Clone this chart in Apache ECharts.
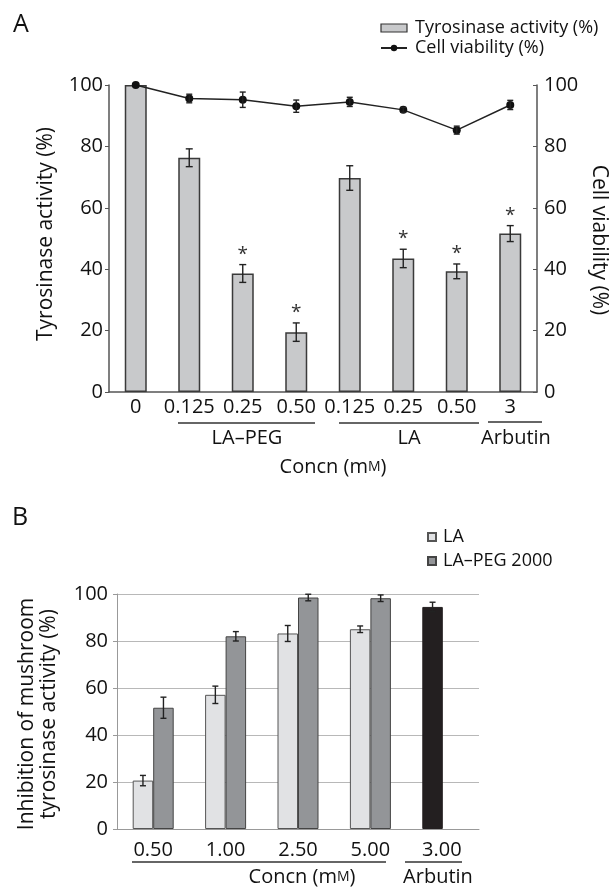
<!DOCTYPE html>
<html>
<head>
<meta charset="utf-8">
<script src="https://cdn.jsdelivr.net/npm/echarts@6/dist/echarts.min.js"></script>
<style>
html,body{margin:0;padding:0;background:#fff;}
#c{width:615px;height:887px;}
</style>
</head>
<body>
<div id="c"></div>
<script>
// ---------- Panel A data ----------
const catsA = ['0', '0.125', '0.25', '0.50', '0.125', '0.25', '0.50', '3'];
const tyrosinaseA = [100, 76.3, 38.6, 19.5, 69.7, 43.5, 39.3, 51.6];
const tyrosinaseErrA = [0, 2.9, 2.9, 3.0, 4.0, 3.0, 2.4, 2.6];
const significantA = [0, 0, 1, 1, 0, 1, 1, 1];
const viabilityA = [100, 95.6, 95.2, 93.1, 94.5, 91.9, 85.3, 93.5];
const viabilityErrA = [0, 1.4, 2.5, 2.0, 1.5, 0.8, 1.3, 1.5];
const yTicksA = [0, 20, 40, 60, 80, 100];

// ---------- Panel B data ----------
const catsB = ['0.50', '1.00', '2.50', '5.00', '3.00'];
const laB = [20.6, 57.1, 83.2, 85.0];
const laErrB = [2.2, 3.7, 3.4, 1.4];
const pegB = [51.6, 82.0, 98.5, 98.2];
const pegErrB = [4.5, 2.0, 1.4, 1.4];
const arbutinB = 94.5;
const arbutinErrB = 2.0;
const yTicksB = [0, 20, 40, 60, 80, 100];

const FONT = 'Open Sans';
const TICK = 20;
const TITLE = 21;
const chart = echarts.init(document.getElementById('c'), null, {renderer: 'canvas'});

function errRender(capHalf, offset, withStar) {
  return function (params, api) {
    const x = api.value(0), y = api.value(1), e = api.value(2), sig = api.value(3);
    const top = api.coord([x, y + e]);
    const bot = api.coord([x, y - e]);
    const cx = top[0] + offset;
    const st = {stroke: '#222', lineWidth: 1.4};
    const children = [];
    if (e > 0) {
      children.push({type: 'line', shape: {x1: cx, y1: top[1], x2: cx, y2: bot[1]}, style: st});
      children.push({type: 'line', shape: {x1: cx - capHalf, y1: top[1], x2: cx + capHalf, y2: top[1]}, style: st});
      children.push({type: 'line', shape: {x1: cx - capHalf, y1: bot[1], x2: cx + capHalf, y2: bot[1]}, style: st});
    }
    if (withStar && sig) {
      children.push({type: 'text', style: {text: '*', x: cx, y: top[1] - 1, align: 'center', verticalAlign: 'bottom',
        fontSize: 19, fontFamily: FONT, fill: '#333'}});
    }
    return {type: 'group', children: children};
  };
}

const axisTxt = {color: '#111', fontSize: TICK, fontFamily: FONT};

const option = {
  animation: false,
  backgroundColor: '#fff',
  textStyle: {fontFamily: FONT},
  grid: [
    {left: 109, top: 85, width: 428, height: 307},
    {left: 117, top: 594, width: 362, height: 235}
  ],
  legend: [
    {
      orient: 'vertical', left: 375, top: 14, itemWidth: 26, itemHeight: 8, itemGap: 2,
      textStyle: {fontSize: 18, color: '#111', fontFamily: FONT, padding: [0, 0, 0, 3]},
      data: [
        {name: 'Tyrosinase activity (%)', icon: 'rect', itemStyle: {color: '#c8c9cb', borderColor: '#333', borderWidth: 1.2}},
        {name: 'Cell viability (%)'}
      ]
    },
    {
      orient: 'vertical', left: 422, top: 523, itemWidth: 8, itemHeight: 8, itemGap: 6,
      textStyle: {fontSize: 18, color: '#111', fontFamily: FONT, padding: [0, 0, 0, 2]},
      data: [{name: 'LA', icon: 'rect'}, {name: 'LA–PEG 2000', icon: 'rect'}]
    }
  ],
  xAxis: [
    {
      gridIndex: 0, type: 'category', data: catsA.map((c, i) => String(i)),
      axisLine: {lineStyle: {color: '#555', width: 1.5}},
      axisTick: {inside: true, length: 5, lineStyle: {color: '#555', width: 1.2}},
      axisLabel: Object.assign({margin: 5, interval: 0, formatter: (v) => catsA[+v]}, axisTxt)
    },
    {
      gridIndex: 1, type: 'category', data: catsB,
      axisLine: {lineStyle: {color: '#999', width: 1}},
      axisTick: {length: 5, lineStyle: {color: '#999'}},
      axisLabel: {show: false}
    }
  ],
  yAxis: [
    {
      gridIndex: 0, type: 'value', min: yTicksA[0], max: yTicksA[yTicksA.length - 1], interval: 20,
      axisLine: {show: true, lineStyle: {color: '#555', width: 1.5}},
      axisTick: {show: true, length: 4, lineStyle: {color: '#555'}},
      splitLine: {show: false},
      axisLabel: Object.assign({margin: 6}, axisTxt)
    },
    {
      gridIndex: 0, type: 'value', position: 'right', min: yTicksA[0], max: yTicksA[yTicksA.length - 1], interval: 20,
      axisLine: {show: true, lineStyle: {color: '#555', width: 1.5}},
      axisTick: {show: true, inside: true, length: 4, lineStyle: {color: '#555'}},
      splitLine: {show: false},
      axisLabel: Object.assign({margin: 7}, axisTxt)
    },
    {
      gridIndex: 1, type: 'value', min: yTicksB[0], max: yTicksB[yTicksB.length - 1], interval: 20,
      axisLine: {show: true, lineStyle: {color: '#999', width: 1}},
      axisTick: {show: true, length: 4, lineStyle: {color: '#999'}},
      splitLine: {show: true, lineStyle: {color: '#b8b8b8', width: 1}},
      axisLabel: Object.assign({margin: 9}, axisTxt)
    }
  ],
  series: [
    {
      name: 'Tyrosinase activity (%)', type: 'bar', xAxisIndex: 0, yAxisIndex: 0,
      data: tyrosinaseA, barWidth: 22,
      itemStyle: {color: '#c8c9cb', borderColor: '#3a3a3a', borderWidth: 1.5}, z: 2
    },
    {
      name: 'tyrErr', type: 'custom', xAxisIndex: 0, yAxisIndex: 0, z: 5,
      renderItem: errRender(3.5, 0, true),
      data: tyrosinaseA.map((v, i) => [i, v, tyrosinaseErrA[i], significantA[i]])
    },
    {
      name: 'Cell viability (%)', type: 'line', xAxisIndex: 0, yAxisIndex: 1,
      data: viabilityA, symbol: 'circle', symbolSize: 8,
      lineStyle: {color: '#222', width: 1.5}, itemStyle: {color: '#111'}, z: 6
    },
    {
      name: 'viaErr', type: 'custom', xAxisIndex: 0, yAxisIndex: 1, z: 7,
      renderItem: errRender(3, 0, false),
      data: viabilityA.map((v, i) => [i, v, viabilityErrA[i], 0])
    },
    {
      name: 'LA', type: 'bar', xAxisIndex: 1, yAxisIndex: 2, barWidth: 20.5, barGap: '0%',
      data: laB.map(v => v).concat([{value: arbutinB, itemStyle: {color: '#231f20', borderColor: '#231f20'}}]),
      itemStyle: {color: '#e1e2e4', borderColor: '#555', borderWidth: 1}
    },
    {
      name: 'LA–PEG 2000', type: 'bar', xAxisIndex: 1, yAxisIndex: 2, barWidth: 20.5, barGap: '0%',
      data: pegB.concat(['-']),
      itemStyle: {color: '#939598', borderColor: '#444', borderWidth: 1}
    },
    {
      name: 'laErr', type: 'custom', xAxisIndex: 1, yAxisIndex: 2, z: 5,
      renderItem: errRender(3, -10.25, false),
      data: laB.map((v, i) => [i, v, laErrB[i], 0]).concat([[4, arbutinB, arbutinErrB, 0]])
    },
    {
      name: 'pegErr', type: 'custom', xAxisIndex: 1, yAxisIndex: 2, z: 5,
      renderItem: errRender(3, 10.25, false),
      data: pegB.map((v, i) => [i, v, pegErrB[i], 0])
    }
  ]
};
chart.setOption(option);

const txt = (text, x, y, size, extra) => Object.assign({
  type: 'text', x: x, y: y, silent: true,
  style: Object.assign({text: text, fontSize: size, fontFamily: FONT, fill: '#111', align: 'center', verticalAlign: 'middle'}, extra && extra.style)
}, extra && extra.el);
const ln = (x1, y1, x2, y2, color) => ({type: 'line', silent: true, shape: {x1, y1, x2, y2}, style: {stroke: color || '#333', lineWidth: 1.5}});
const richSc = {rich: {s: {fontSize: 14, fontFamily: FONT, fill: '#111'}}};

const graphics = [];
graphics.push(txt('A', 21, 25, 25));
graphics.push(txt('B', 20, 518, 25));
graphics.push(txt('Tyrosinase activity (%)', 46, 234, TITLE, {el: {rotation: Math.PI / 2}}));
graphics.push(txt('Cell viability (%)', 599, 240, TITLE, {el: {rotation: -Math.PI / 2}}));
graphics.push(txt('Inhibition of mushroom\ntyrosinase activity (%)', 38, 714, TITLE, {el: {rotation: Math.PI / 2}, style: {lineHeight: 22}}));
// B category labels, centred on each category of the axis
catsB.forEach((c, i) => {
  const p = chart.convertToPixel({xAxisIndex: 1, yAxisIndex: 2}, [i, 0]);
  graphics.push(txt(c, i === 4 ? p[0] - 1 : p[0], 850, TICK));
});
// group annotations A
graphics.push(ln(178, 423, 315, 423));
graphics.push(ln(339, 423, 479, 423));
graphics.push(ln(488, 422, 542, 422));
graphics.push(txt('LA–PEG', 247, 438, TICK));
graphics.push(txt('LA', 409, 438, TICK));
graphics.push(txt('Arbutin', 516, 438, TICK));
graphics.push(txt('Concn (m{s|M})', 333, 467, TICK, {style: richSc}));
// group annotations B
graphics.push(ln(132, 862, 386, 862));
graphics.push(ln(405, 862, 462, 862));
graphics.push(txt('Concn (m{s|M})', 302, 877, TICK, {style: richSc}));
graphics.push(txt('Arbutin', 438, 877, TICK));

chart.setOption({graphic: graphics});
</script>
</body>
</html>
